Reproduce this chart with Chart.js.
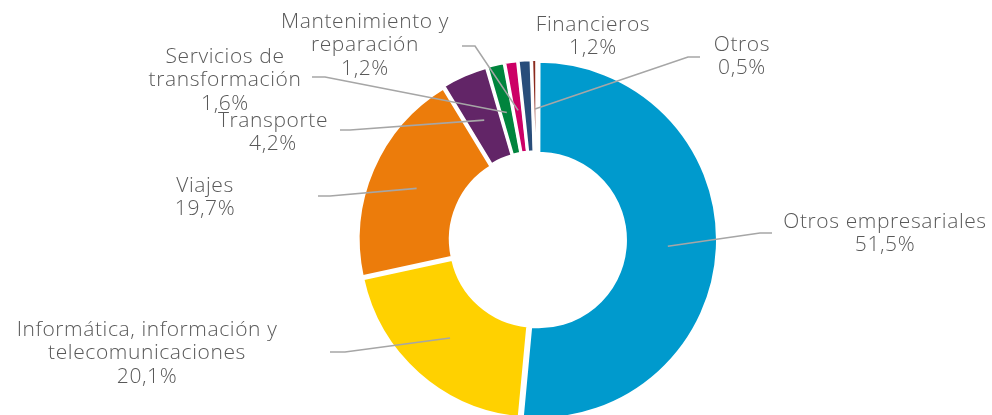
<!DOCTYPE html>
<html>
<head>
<meta charset="utf-8">
<script src="https://cdn.jsdelivr.net/npm/chart.js@4"></script>
<style>
  html, body { margin: 0; padding: 0; background: #fff; }
  #wrap { width: 992px; height: 415px; }
</style>
</head>
<body>
<div id="wrap"><canvas id="chart"></canvas></div>
<script>
// Servicios por tipo — doughnut

const CATEGORIES = [
  "Otros empresariales",
  "Informática, información y telecomunicaciones",
  "Viajes",
  "Transporte",
  "Servicios de transformación",
  "Mantenimiento y reparación",
  "Financieros",
  "Otros",
];
const VALUES = [51.5, 20.1, 19.7, 4.2, 1.6, 1.2, 1.2, 0.5];
const COLORS = ["#009ACD", "#FFD100", "#EC7C0B", "#622567", "#00843D", "#CC0066", "#284D7A", "#8B2A1E"];

// label text lines (category split for display) + value line
const LABEL_LINES = [
  ["Otros empresariales"],
  ["Informática, información y", "telecomunicaciones"],
  ["Viajes"],
  ["Transporte"],
  ["Servicios de", "transformación"],
  ["Mantenimiento y", "reparación"],
  ["Financieros"],
  ["Otros"],
];

// label layout: text centre, first line y, leader elbow and stub end (null = no leader)
const LABEL_POS = [
  { x: 885, y: 222, elbow: [760, 233], end: 772 },
  { x: 147, y: 330, elbow: [345, 352], end: 330 },
  { x: 205, y: 186, elbow: [330, 196], end: 318 },
  { x: 273, y: 121, elbow: [350, 130], end: 340 },
  { x: 225, y: 57, elbow: [325, 77], end: 312 },
  { x: 365, y: 22, elbow: [475, 46], end: 462 },
  { x: 593, y: 25, elbow: null, end: null },
  { x: 742, y: 45, elbow: [688, 57], end: 700 },
];

const fmt = (v) => v.toFixed(1).replace(".", ",") + "%";

const leaderLabels = {
  id: "leaderLabels",
  afterDatasetsDraw(chart) {
    const ctx = chart.ctx;
    const arcs = chart.getDatasetMeta(0).data;
    ctx.save();
    ctx.strokeStyle = "#A6A6A6";
    ctx.lineWidth = 1.6;
    arcs.forEach((arc, i) => {
      const p = LABEL_POS[i];
      if (!p.elbow) return;
      const { startAngle, endAngle, x, y, innerRadius, outerRadius } =
        arc.getProps(["startAngle", "endAngle", "x", "y", "innerRadius", "outerRadius"], true);
      const a = (startAngle + endAngle) / 2;
      const r = (innerRadius + outerRadius) / 2;
      ctx.beginPath();
      ctx.moveTo(x + Math.cos(a) * r, y + Math.sin(a) * r);
      ctx.lineTo(p.elbow[0], p.elbow[1]);
      ctx.lineTo(p.end, p.elbow[1]);
      ctx.stroke();
    });
    ctx.fillStyle = "#595959";
    ctx.font = "300 21px 'Open Sans', Lato, sans-serif";
    ctx.letterSpacing = "0.6px";
    ctx.textAlign = "center";
    ctx.textBaseline = "middle";
    LABEL_LINES.forEach((lines, i) => {
      const p = LABEL_POS[i];
      const all = lines.concat([fmt(VALUES[i])]);
      all.forEach((t, k) => ctx.fillText(t, p.x, p.y + k * 23.5));
    });
    ctx.restore();
  },
};

new Chart(document.getElementById("chart"), {
  type: "doughnut",
  data: {
    labels: CATEGORIES,
    datasets: [{
      data: VALUES,
      backgroundColor: COLORS,
      borderColor: "#fff",
      borderWidth: 3,
      offset: 7,
      clip: false,
    }],
  },
  options: {
    responsive: true,
    maintainAspectRatio: false,
    animation: false,
    radius: 177,
    cutout: "48%",
    layout: { padding: { left: 362, right: 280, top: 65, bottom: 0 } },
    plugins: { legend: { display: false }, tooltip: { enabled: false } },
  },
  plugins: [leaderLabels],
});
</script>
</body>
</html>
